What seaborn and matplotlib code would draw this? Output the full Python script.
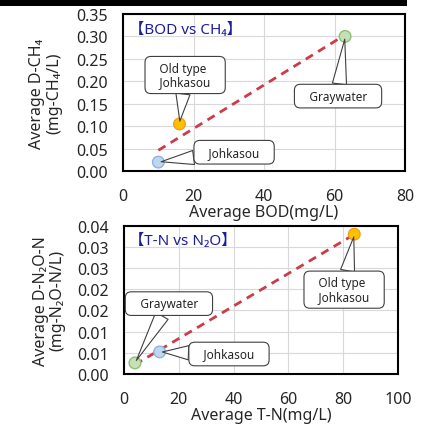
import numpy as np
import pandas as pd
import matplotlib
matplotlib.use('Agg')
import matplotlib.pyplot as plt
from matplotlib.patches import Rectangle
import seaborn as sns

# data
sources = ['Johkasou', 'Old type\nJohkasou', 'Graywater']
bod = [10, 16, 63]
ch4 = [0.02, 0.105, 0.30]
tn = [13, 84, 4]
n2o = [0.0052, 0.033, 0.0026]

fills = ['#bdd7ee', '#ffc000', '#c5e0b4']
edges = ['#8fb4de', '#f0a020', '#8cc07a']

df = pd.DataFrame({'source': sources, 'BOD': bod, 'CH4': ch4, 'TN': tn, 'N2O': n2o})

sns.set_style('white')
plt.rcParams['font.family'] = ['Noto Sans', 'Noto Sans CJK JP', 'DejaVu Sans']

fig = plt.figure(figsize=(4.29, 4.27), dpi=100)
ax1 = fig.add_axes([0.287, 0.597, 0.657, 0.368])
ax2 = fig.add_axes([0.289, 0.122, 0.639, 0.347])


def draw_panel(ax, xcol, ycol, xmax, ymax, ystep, title, xlabel, ylabel, boxes, ylab_x):
    ax.set_axisbelow(True)
    ax.grid(True, color='#d9d9d9', linewidth=0.8)
    sns.regplot(data=df, x=xcol, y=ycol, ax=ax, scatter=False, ci=None, truncate=True,
                line_kws=dict(color='#cc3b48', linewidth=2.0, linestyle=(0, (3, 2.2))))
    sns.scatterplot(data=df, x=xcol, y=ycol, hue='source', palette=fills, ax=ax,
                    s=70, legend=False, zorder=3)
    for coll in ax.collections:
        coll.set_edgecolor(edges)
        coll.set_linewidth(1.0)
    ax.set_xlim(0, xmax)
    ax.set_ylim(0, ymax)
    ax.set_xticks(np.arange(0, xmax + 1, 20))
    yt = np.arange(0, ymax + ystep / 2, ystep)
    ax.set_yticks(yt)
    ax.set_yticklabels(['%.2f' % (v + 1e-9) for v in yt])
    ax.tick_params(axis='x', labelsize=11.5, pad=12, length=0)
    ax.tick_params(axis='y', labelsize=11.5, pad=11, length=0)
    for sp in ax.spines.values():
        sp.set_color('black')
        sp.set_linewidth(1.5)
    ax.set_xlabel(xlabel, fontsize=11.5, labelpad=0)
    ax.set_ylabel(ylabel, fontsize=11.5, linespacing=1.1)
    ax.yaxis.set_label_coords(ylab_x, 0.5)
    ax.text(0.02, 0.95, title, transform=ax.transAxes, fontsize=11, color='#1c1ca0',
            ha='left', va='top')
    for i, (tx, ty) in enumerate(boxes):
        label = '\n'.join('   ' + s + '   ' for s in sources[i].split('\n'))
        ax.annotate(label, xy=(df[xcol][i], df[ycol][i]), xytext=(tx, ty),
                    textcoords='data', fontsize=8.5, ha='center', va='center',
                    multialignment='left', zorder=5, linespacing=1.05,
                    bbox=dict(boxstyle='round,pad=0.45,rounding_size=0.5', fc='white',
                              ec='#404040', lw=0.8),
                    arrowprops=dict(arrowstyle='wedge,tail_width=1.2,shrink_factor=0.5',
                                    fc='white', ec='#404040', lw=0.8, shrinkA=0, shrinkB=2))


draw_panel(ax1, 'BOD', 'CH4', 80, 0.35, 0.05, '【BOD vs CH₄】', 'Average BOD(mg/L)',
           'Average D-CH₄\n(mg-CH₄/L)',
           [(31.5, 0.042), (17.6, 0.214), (61, 0.167)], -0.215)
draw_panel(ax2, 'TN', 'N2O', 100, 0.035, 0.005, '【T-N vs N₂O】', 'Average T-N(mg/L)',
           'Average D-N₂O-N\n(mg-N₂O-N/L)',
           [(38.3, 0.0047), (80.3, 0.0199), (16.4, 0.0166)], -0.212)

# black rule at the top of the page
fig.patches.append(Rectangle((0, 1 - 7 / 427), 407 / 429, 7 / 427, transform=fig.transFigure,
                             facecolor='black', edgecolor='none', zorder=10))

fig.savefig('out.png', dpi=100)
